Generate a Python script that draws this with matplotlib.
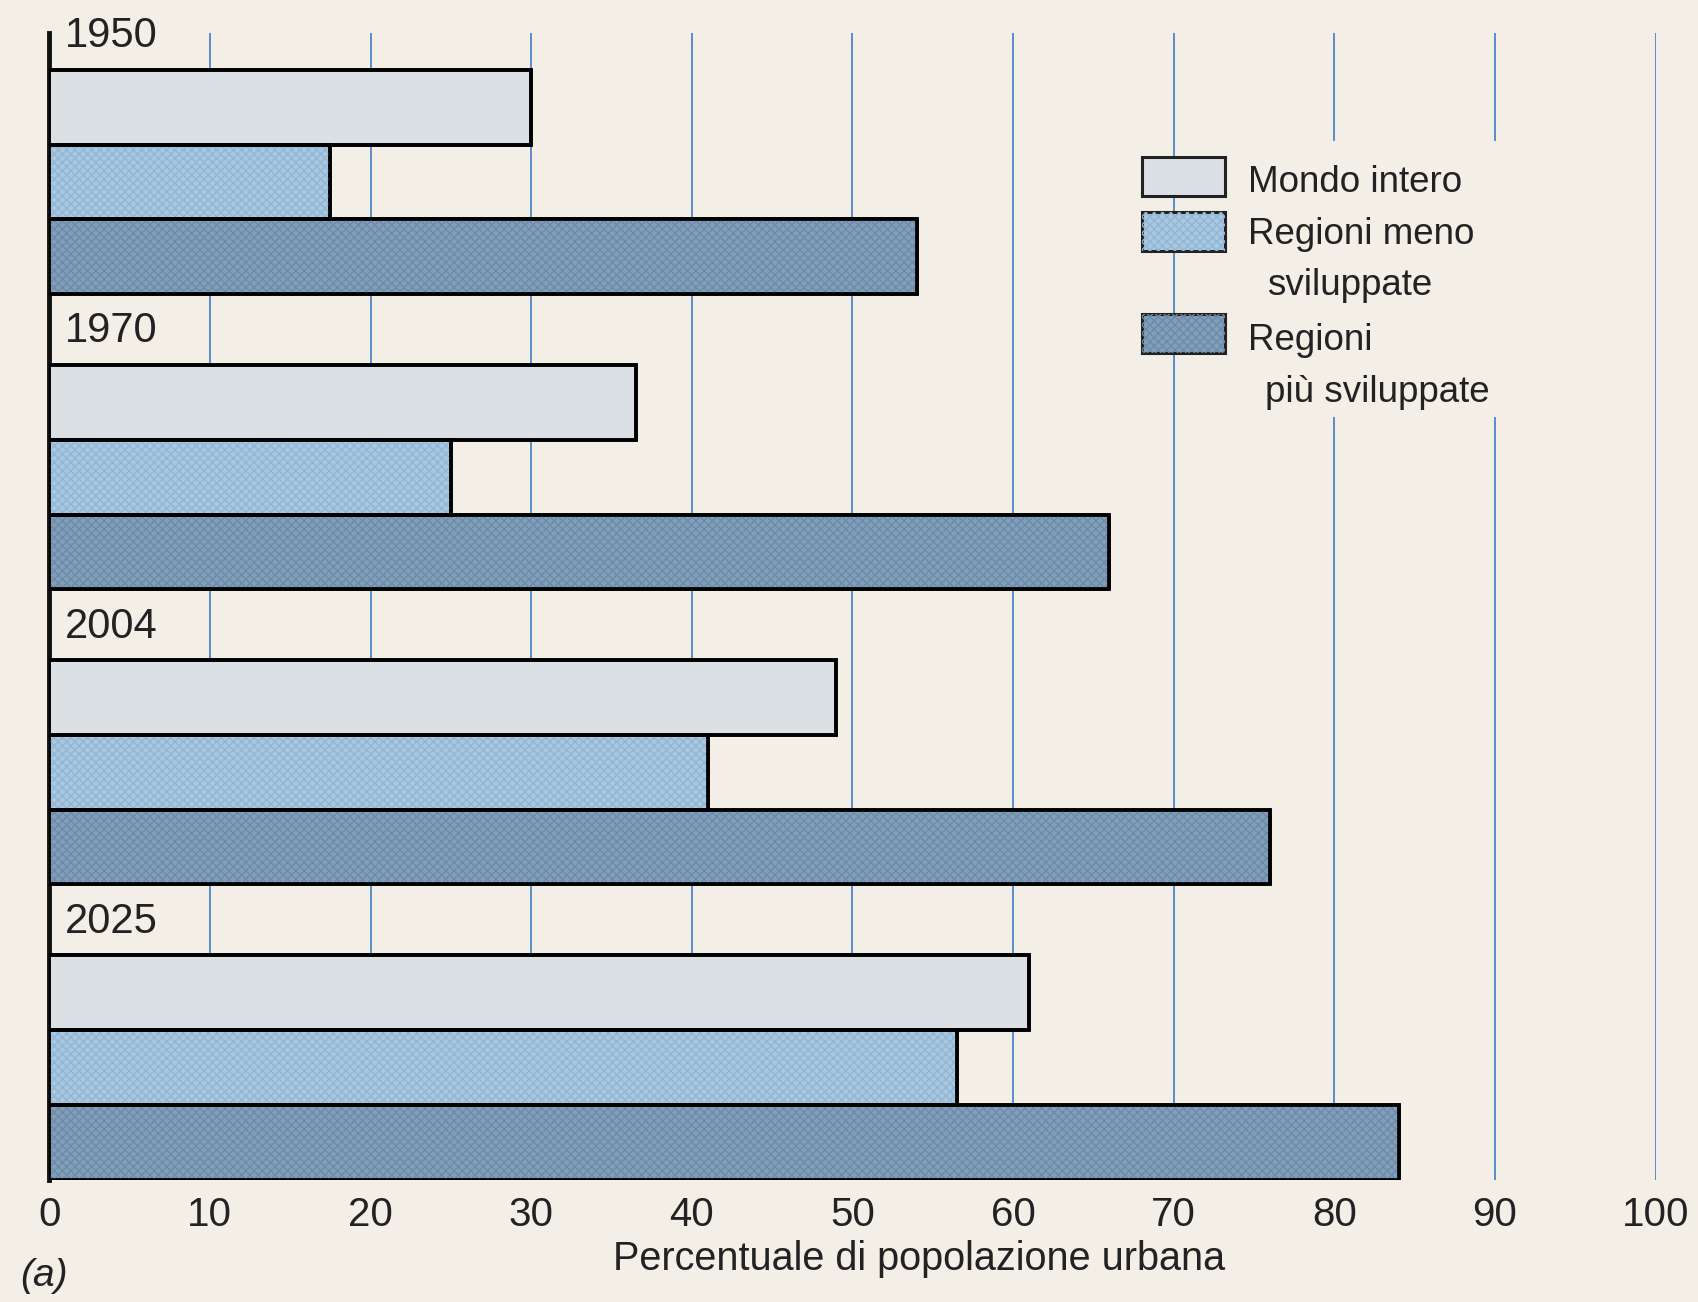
import numpy as np
import matplotlib.pyplot as plt
from matplotlib.patches import Rectangle

plt.rcParams['font.family'] = ['Liberation Sans', 'DejaVu Sans']

years = ["1950", "1970", "2004", "2025"]
series = ["Mondo intero", "Regioni meno\nsviluppate", "Regioni\npiù sviluppate"]
mondo = [30, 36.5, 49, 61]
meno = [17.5, 25, 41, 56.5]
piu = [54, 66, 76, 84]
ticks = list(range(0, 101, 10))

bg = "#f3eee6"
colors = ["#dbe0e4", "#a8c7e0", "#819fba"]
hatch_cols = [None, "#93b5d3", "#6d8ba6"]
grid_col = "#5a8ccc"
txt = "#222222"

fig = plt.figure(figsize=(16.98, 13.02), dpi=100, facecolor=bg)
ax = fig.add_axes([0.029, 0.094, 0.946, 0.881], facecolor=bg)

pitch = 3.95
base = np.arange(len(years)) * pitch
for s, vals in enumerate([mondo, meno, piu]):
    y = base + s
    ax.barh(y, vals, height=1.0, color=colors[s], edgecolor="black",
            linewidth=2.6, zorder=3)
    if hatch_cols[s]:
        ax.barh(y, vals, height=1.0, color="none", edgecolor=hatch_cols[s],
                linewidth=0, hatch="xxxx", zorder=3.5)
    ax.barh(y, vals, height=1.0, color="none", edgecolor="black",
            linewidth=2.6, zorder=3.6)

for g, yr in enumerate(years):
    ax.text(1.0, base[g] - 0.95, yr, fontsize=30, va="center", ha="left", color=txt)

ax.set_xlim(0, 100)
ax.set_ylim(base[-1] + 2.5, -1.0)
ax.set_xticks(ticks)
ax.set_xticklabels([str(t) for t in ticks], fontsize=29, color=txt)
ax.set_yticks([])
ax.tick_params(axis="x", length=0, pad=12)
ax.grid(axis="x", color=grid_col, linewidth=1.4, zorder=0)
ax.set_axisbelow(True)
for side in ["top", "right", "bottom"]:
    ax.spines[side].set_visible(False)
ax.spines["left"].set_linewidth(3.5)
ax.spines["left"].set_color("#111111")

# legend drawn by hand so the boxes sit on the first text line
ax.add_patch(Rectangle((73.6, 0.45), 20.5, 3.7, facecolor=bg, edgecolor="none", zorder=1))
box_y = [0.93, 1.66, 3.03]
for s in range(3):
    ax.add_patch(Rectangle((68.0, box_y[s] - 0.26), 5.2, 0.52, facecolor=colors[s],
                           edgecolor=txt, linewidth=2.2, zorder=4))
    if hatch_cols[s]:
        ax.add_patch(Rectangle((68.0, box_y[s] - 0.26), 5.2, 0.52, facecolor="none",
                               edgecolor=hatch_cols[s], linewidth=0, hatch="xxxx", zorder=4.5))
ax.text(74.6, 1.0, "Mondo intero", fontsize=26.5, va="center", ha="left", color=txt, zorder=5)
ax.text(74.6, 1.7, "Regioni meno", fontsize=26.5, va="center", ha="left", color=txt, zorder=5)
ax.text(75.8, 2.39, "sviluppate", fontsize=26.5, va="center", ha="left", color=txt, zorder=5)
ax.text(74.6, 3.12, "Regioni", fontsize=26.5, va="center", ha="left", color=txt, zorder=5)
ax.text(75.7, 3.82, "più sviluppate", fontsize=26.5, va="center", ha="left", color=txt, zorder=5)

fig.text(0.541, 0.033, "Percentuale di popolazione urbana", fontsize=28.5,
         ha="center", va="center", color=txt)
fig.text(0.012, 0.02, "(a)", fontsize=28, style="italic", ha="left",
         va="center", color=txt)

fig.savefig("out.png", dpi=100, facecolor=bg)
